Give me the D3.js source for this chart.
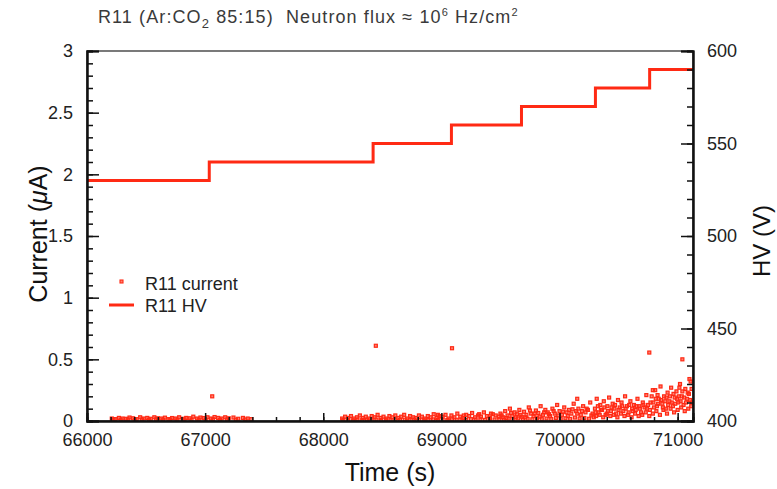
<!DOCTYPE html>
<html>
<head>
<meta charset="utf-8">
<script src="https://cdn.jsdelivr.net/npm/d3@7"></script>
<style>
  body { margin: 0; background: #fff; }
  svg { font-family: "Liberation Sans", Arial, sans-serif; }
</style>
</head>
<body>
<div id="chart"></div>
<script>
// tick labels
const xTicks = [66000, 67000, 68000, 69000, 70000, 71000];
const yLeftTicks = [0, 0.5, 1, 1.5, 2, 2.5, 3];
const yRightTicks = [400, 450, 500, 550, 600];

// HV steps (time where each setting starts, voltage)
const hvTime = [66000, 67035, 68422, 69085, 69678, 70304, 70763, 71130];
const hvVolt = [530, 540, 550, 560, 570, 580, 590, 590];

// current readings [time (s), current (uA)]
const currentLow = [
  [66210, .02], [66240, .015], [66270, .025], [66300, .02], [66330, .018], [66360, .028],
  [66390, .022], [66420, .015], [66450, .03], [66480, .02], [66510, .025], [66540, .018],
  [66570, .03], [66600, .022], [66630, .02], [66660, .027], [66690, .015], [66720, .024],
  [66750, .02], [66780, .03], [66810, .018], [66840, .025], [66870, .022], [66900, .035],
  [66930, .02], [66960, .028], [66990, .024], [67020, .03], [67050, .02], [67080, .032],
  [67110, .025], [67140, .02], [67170, .03], [67200, .022], [67240, .028], [67280, .018],
  [67320, .025], [67360, .02], [67390, .015], [66225, .012], [66285, .01], [66345, .013],
  [66405, .01], [66465, .012], [66525, .011], [66585, .013], [66645, .01], [66705, .012],
  [66765, .011], [66825, .013], [66885, .01], [66945, .012], [67005, .011], [67065, .014],
  [67125, .01], [67185, .012], [67260, .011], [67340, .012]
];
const currentMid = [
  [68160, .02], [68185, .035], [68210, .025], [68235, .04], [68260, .02], [68285, .03],
  [68310, .045], [68335, .025], [68360, .035], [68385, .02], [68410, .04], [68435, .03],
  [68460, .05], [68485, .025], [68510, .035], [68535, .02], [68560, .04], [68585, .03],
  [68610, .045], [68635, .025], [68660, .035], [68685, .05], [68710, .02], [68735, .04],
  [68760, .03], [68785, .025], [68810, .045], [68835, .035], [68860, .02], [68885, .04],
  [68910, .03], [68935, .055], [68960, .025], [68985, .04], [69010, .035], [69035, .05],
  [69060, .02], [69085, .045], [69110, .03], [69135, .06], [69160, .035], [69185, .025],
  [69210, .05], [69235, .04], [69260, .065], [69285, .03], [69310, .045], [69335, .035],
  [69360, .07], [69385, .04], [69410, .025], [69435, .055], [69460, .045], [69485, .035],
  [69500, .06], [69520, .03], [69540, .08], [69560, .045], [69580, .1], [69600, .04],
  [69620, .07], [69640, .055], [69660, .09], [69680, .035], [69700, .075], [69720, .05],
  [69740, .11], [69760, .06], [69780, .04], [69800, .085], [69820, .065], [69840, .12],
  [69860, .05], [69880, .09], [69900, .07], [69920, .04], [69940, .1], [69960, .06],
  [69980, .13], [70000, .08], [70020, .05], [70040, .11], [70060, .07], [70080, .09],
  [70100, .06], [70120, .14], [70140, .08], [70160, .1], [70180, .05], [70200, .12],
  [70220, .07], [70240, .09], [70260, .15], [70280, .06],
  [69510, .045], [69550, .025], [69590, .065], [69630, .03], [69670, .05], [69710, .03],
  [69750, .085], [69790, .06], [69830, .035], [69870, .07], [69910, .055], [69950, .08],
  [69990, .045], [70030, .075], [70070, .04], [70110, .095], [70150, .06], [70190, .08],
  [70230, .1], [70270, .045], [68970, .05], [69190, .045], [69320, .055], [69420, .06]
];
const currentHigh = [
  [70300, .1], [70315, .18], [70330, .07], [70345, .13], [70360, .09], [70375, .16],
  [70390, .05], [70405, .12], [70420, .19], [70435, .08], [70450, .14], [70465, .1],
  [70480, .06], [70495, .17], [70510, .11], [70525, .15], [70540, .08], [70555, .2],
  [70570, .12], [70585, .07], [70600, .16], [70615, .1], [70630, .13], [70645, .09],
  [70660, .18], [70675, .12], [70690, .07], [70705, .15], [70720, .11], [70735, .21],
  [70750, .13], [70765, .09], [70780, .2], [70795, .15], [70810, .25], [70825, .12],
  [70840, .18], [70855, .28], [70870, .14], [70885, .2], [70900, .1], [70915, .23],
  [70930, .16], [70945, .27], [70960, .12], [70975, .19], [70990, .24], [71005, .15],
  [71020, .3], [71035, .2], [71050, .13], [71065, .26], [71080, .18], [71095, .22],
  [71110, .32], [71120, .15], [70790, .25], [71100, .34],
  [70310, .04], [70340, .05], [70370, .03], [70400, .06], [70430, .04], [70460, .05],
  [70490, .03], [70520, .06], [70550, .04], [70580, .05], [70610, .03], [70640, .06],
  [70670, .04], [70700, .05], [70730, .07], [70760, .04], [70790, .06], [70820, .08],
  [70850, .05], [70880, .09], [70910, .06], [70940, .1], [70970, .07], [71000, .09],
  [71030, .11], [71060, .08], [71090, .1], [71115, .12],
  [70305, .07], [70325, .12], [70350, .09], [70380, .11], [70410, .08], [70440, .11],
  [70470, .13], [70500, .09], [70530, .12], [70560, .1], [70590, .13], [70620, .08],
  [70650, .12], [70680, .1], [70710, .13], [70740, .1], [70770, .15], [70800, .11],
  [70815, .18], [70835, .14], [70860, .17], [70875, .11], [70895, .16], [70920, .13],
  [70935, .2], [70950, .15], [70965, .22], [70980, .14], [70995, .18], [71010, .2],
  [71025, .16], [71040, .24], [71055, .19], [71070, .15], [71085, .23], [71105, .17],
  [71118, .26], [70830, .21], [70905, .19], [71015, .27]
];
const currentBase = [
  [68170, .008], [68210, .01], [68250, .006], [68290, .012], [68330, .008], [68370, .01],
  [68410, .006], [68450, .012], [68490, .008], [68530, .01], [68570, .007], [68610, .012],
  [68650, .009], [68690, .011], [68730, .007], [68770, .012], [68810, .009], [68850, .01],
  [68890, .007], [68930, .013], [68970, .009], [69010, .011], [69050, .008], [69090, .014],
  [69130, .01], [69170, .012], [69210, .008], [69250, .015], [69290, .011], [69330, .013],
  [69370, .009], [69410, .016], [69450, .012], [69490, .014], [69530, .01], [69570, .018],
  [69610, .013], [69650, .02], [69690, .012], [69730, .017], [69770, .014], [69810, .022],
  [69850, .015], [69890, .02], [69930, .016], [69970, .025], [70010, .018], [70050, .022],
  [70090, .017], [70130, .028], [70170, .02], [70210, .025], [70250, .018], [70290, .03]
];
const currentSpikes = [
  [67060, .2], [68445, .61], [69090, .59], [70150, .18], [70760, .555], [71040, .5]
];

const W = 777, H = 489;
const marginTop = 51, marginRight = 84, marginBottom = 68, marginLeft = 87;
const width = W - marginLeft - marginRight;
const height = H - marginTop - marginBottom;
const red = "#ff2a14";

const svg = d3.select("#chart").append("svg")
  .attr("width", W).attr("height", H);

const g = svg.append("g")
  .attr("transform", "translate(" + marginLeft + "," + marginTop + ")");

const x = d3.scaleLinear().domain([66000, 71130]).range([0, width]);
const yI = d3.scaleLinear().domain([0, 3]).range([height, 0]);
const yV = d3.scaleLinear().domain([400, 600]).range([height, 0]);

g.append("clipPath").attr("id", "clip")
  .append("rect").attr("width", width).attr("height", height);

// current points
const allPoints = currentLow.concat(currentBase, currentMid, currentHigh, currentSpikes);
g.append("g").attr("clip-path", "url(#clip)")
  .selectAll("rect")
  .data(allPoints)
  .join("rect")
  .attr("x", d => x(d[0]) - 1.5)
  .attr("y", d => yI(d[1]) - 1.5)
  .attr("width", 3)
  .attr("height", 3)
  .attr("fill", red)
  .attr("fill-opacity", 0.6)
  .attr("stroke", red)
  .attr("stroke-width", 1.2);

// HV step line
const hvLine = d3.line()
  .x((d, i) => x(hvTime[i]))
  .y(d => yV(d))
  .curve(d3.curveStepAfter);

g.append("path")
  .datum(hvVolt)
  .attr("fill", "none")
  .attr("stroke", red)
  .attr("stroke-width", 3)
  .attr("d", hvLine);

// frame
g.append("rect")
  .attr("width", width).attr("height", height)
  .attr("fill", "none").attr("stroke", "#222").attr("stroke-width", 1.2);

function styleAxis(sel) {
  sel.select(".domain").attr("stroke", "#111").attr("stroke-width", 2);
  sel.selectAll(".tick line").attr("stroke", "#111").attr("stroke-width", 1.5);
  sel.selectAll("text").attr("fill", "#222").style("font-size", "18px")
    .style("font-family", "Liberation Sans, Arial, sans-serif");
}

// X axis
g.append("g")
  .attr("transform", "translate(0," + height + ")")
  .call(d3.axisBottom(x).tickValues(d3.range(66200, 71130, 200)).tickSize(-4).tickFormat(""))
  .call(styleAxis);
g.append("g")
  .attr("transform", "translate(0," + height + ")")
  .call(d3.axisBottom(x).tickValues(xTicks).tickSize(-8).tickPadding(12).tickFormat(d3.format("d")))
  .call(styleAxis);

// left Y axis
g.append("g")
  .call(d3.axisLeft(yI).tickValues(d3.range(0, 3.01, 0.1)).tickSize(-6).tickFormat(""))
  .call(styleAxis);
g.append("g")
  .call(d3.axisLeft(yI).tickValues(yLeftTicks).tickSize(-12).tickPadding(14).tickFormat(d => d))
  .call(styleAxis);

// right Y axis
g.append("g")
  .attr("transform", "translate(" + width + ",0)")
  .call(d3.axisRight(yV).tickValues(d3.range(400, 601, 10)).tickSize(-6).tickFormat(""))
  .call(styleAxis);
g.append("g")
  .attr("transform", "translate(" + width + ",0)")
  .call(d3.axisRight(yV).tickValues(yRightTicks).tickSize(-12).tickPadding(14))
  .call(styleAxis);

// axis titles
svg.append("text")
  .attr("x", marginLeft + width / 2)
  .attr("y", 481)
  .attr("text-anchor", "middle")
  .style("font-size", "25px")
  .attr("fill", "#111")
  .text("Time (s)");

const yTitle = svg.append("text")
  .attr("transform", "translate(47," + (marginTop + height / 2 - 2) + ") rotate(-90)")
  .attr("text-anchor", "middle")
  .style("font-size", "25px")
  .attr("fill", "#111");
yTitle.append("tspan").text("Current (");
yTitle.append("tspan").style("font-style", "italic").text("\u03bc");
yTitle.append("tspan").text("A)");

svg.append("text")
  .attr("transform", "translate(770," + (marginTop + height / 2 + 5) + ") rotate(-90)")
  .attr("text-anchor", "middle")
  .style("font-size", "24px")
  .attr("fill", "#111")
  .text("HV (V)");

// title
const title = svg.append("text")
  .attr("x", 98).attr("y", 23)
  .style("font-size", "18px")
  .style("letter-spacing", "1.1px")
  .style("white-space", "pre")
  .attr("fill", "#3a3a3a");
title.append("tspan").text("R11 (Ar:CO");
title.append("tspan").attr("dy", 5).style("font-size", "13px").text("2");
title.append("tspan").attr("dy", -5).text(" 85:15)  Neutron flux \u2248 10");
title.append("tspan").attr("dy", -7).style("font-size", "11px").text("6");
title.append("tspan").attr("dy", 7).text(" Hz/cm");
title.append("tspan").attr("dy", -7).style("font-size", "11px").text("2");

// legend
const legend = svg.append("g");
legend.append("rect")
  .attr("x", 120).attr("y", 280).attr("width", 3).attr("height", 3)
  .attr("fill", red).attr("fill-opacity", 0.6).attr("stroke", red).attr("stroke-width", 1.1);
legend.append("text")
  .attr("x", 145).attr("y", 290)
  .style("font-size", "18px").attr("fill", "#222")
  .text("R11 current");
legend.append("line")
  .attr("x1", 109).attr("x2", 134).attr("y1", 305).attr("y2", 305)
  .attr("stroke", red).attr("stroke-width", 3);
legend.append("text")
  .attr("x", 145).attr("y", 312)
  .style("font-size", "18px").attr("fill", "#222")
  .text("R11 HV");
</script>
</body>
</html>
